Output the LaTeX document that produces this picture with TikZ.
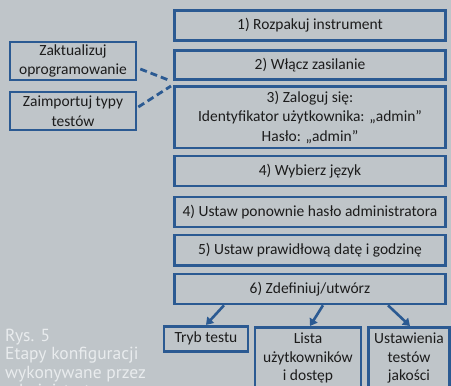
\documentclass[tikz,border=0pt]{standalone}
\usepackage{fontspec}
\setmainfont{Carlito}
\newfontfamily\capfont{PT Sans}
\usetikzlibrary{arrows.meta,calc}
\definecolor{bg}{HTML}{BFC5C9}
\definecolor{bl}{HTML}{2B5A92}
\definecolor{tx}{HTML}{1C1C1C}
\definecolor{capc}{HTML}{E9ECEE}
\begin{document}
\begin{tikzpicture}[x=1pt,y=-1pt,
  stepbox/.style={draw=bl,line width=2.6pt,fill=bg,text=tx,
    font=\fontsize{15.5}{19.5}\selectfont,align=center,inner sep=0pt},
  dashline/.style={draw=bl,line width=2.8pt,dash pattern=on 7pt off 4pt},
  arrowline/.style={draw=bl,line width=2.6pt,-{Triangle[length=7pt,width=9pt]}}]
\fill[bg] (0,0) rectangle (451,386);
\useasboundingbox (0,0) rectangle (451,386);
\clip (0,0) rectangle (451,386);
% main column
\node[stepbox,minimum width=271pt,minimum height=30pt] (s1) at (310,25.5) {1) Rozpakuj instrument};
\node[stepbox,minimum width=271pt,minimum height=29pt] (s2) at (310,65) {2) Włącz zasilanie};
\node[stepbox,minimum width=271pt,minimum height=61.5pt] (s3) at (310,117.3) {3) Zaloguj się:\\Identyfikator użytkownika: „admin”\\Hasło: „admin”};
\node[stepbox,minimum width=271pt,minimum height=30pt] (s4) at (310,171) {4) Wybierz język};
\node[stepbox,minimum width=271pt,minimum height=30pt] (s5) at (310,212) {4) Ustaw ponownie hasło administratora};
\node[stepbox,minimum width=271pt,minimum height=30.5pt] (s6) at (310,250.3) {5) Ustaw prawidłową datę i godzinę};
\node[stepbox,minimum width=271pt,minimum height=30pt] (s7) at (310,289) {6) Zdefiniuj/utwórz};
% left boxes
\node[stepbox,minimum width=126pt,minimum height=38pt] (zak) at (73,61) {Zaktualizuj\\oprogramowanie};
\node[stepbox,minimum width=126pt,minimum height=38pt] (zim) at (73,111) {Zaimportuj typy\\testów};
% bottom boxes
\node[stepbox,minimum width=84pt,minimum height=25pt] (tryb) at (206,338.7) {Tryb testu};
\node[stepbox,minimum width=106pt,minimum height=62pt,anchor=north,
  font=\fontsize{15.5}{18.5}\selectfont] (lista) at (308,326) {Lista\\użytkowników\\i dostęp};
\node[stepbox,minimum width=81pt,minimum height=62pt,anchor=north,
  font=\fontsize{15.5}{18.5}\selectfont] (ust) at (409,326) {Ustawienia\\testów\\jakości};
% dashed connectors
\coordinate (m1) at (171,81);
\coordinate (m2) at (171,86);
\draw[dashline] ($(zak.east)+(3,8)$) -- (m1);
\draw[dashline] ($(zim.east)+(1,-4)$) -- (m2);
% arrows
\draw[arrowline] ($(s7.south)+(-86,0)$) -- (tryb.north);
\draw[arrowline] ($(s7.south)+(13,0)$) -- ($(lista.north)+(2,0)$);
\draw[arrowline] ($(s7.south)+(78,0)$) -- ($(ust.north)+(1,0)$);
% caption
\node[anchor=base west,align=left,inner sep=0pt,text=capc,
  font=\capfont\fontsize{17.5}{18.5}\selectfont] (cap) at (5,396.5)
  {Rys. 5\\Etapy konfiguracji\\wykonywane przez\\administratora};
\end{tikzpicture}
\end{document}
